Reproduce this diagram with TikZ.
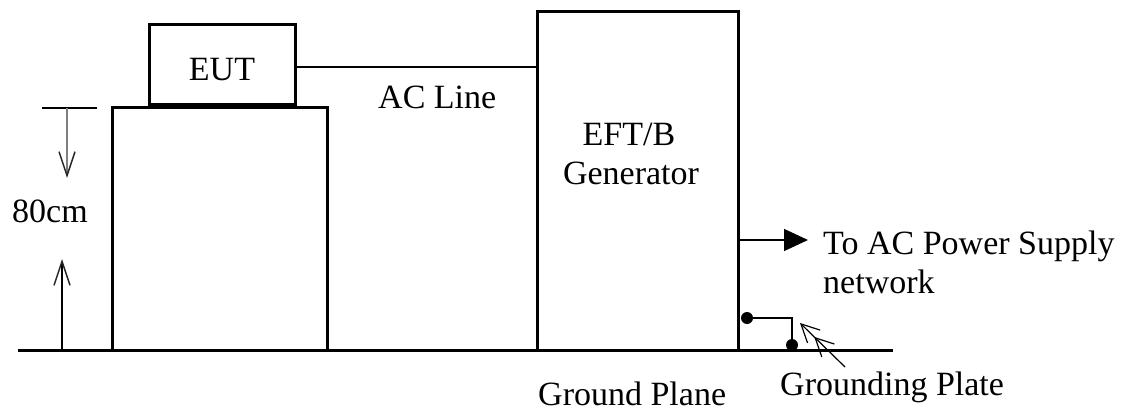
\documentclass[tikz,border=0pt]{standalone}
\usepackage{fontspec}
\setmainfont{Liberation Serif}
\usetikzlibrary{arrows.meta}
\begin{document}
\begin{tikzpicture}[x=1pt,y=-1pt,
  lbl/.style={font=\fontsize{34}{40}\selectfont, inner sep=0pt, anchor=base west},
  boxthick/.style={draw, line width=3pt, inner sep=0pt, outer sep=0pt},
  thinline/.style={line width=1.4pt},
  dimarrow/.style={line width=1.4pt, -{Straight Barb[length=24pt,width=16pt,line width=1.5pt,color=black!85]}},
  dotfill/.style={circle, fill, inner sep=0pt, minimum size=12pt}]
\useasboundingbox (0,0) rectangle (1132,412);
% boxes
\node[boxthick, minimum width=215pt, minimum height=243pt] (table) at (219.5,228.5) {};
\node[boxthick, minimum width=146pt, minimum height=79pt] (eut) at (222,64.5) {};
\node[lbl, anchor=base] (eutt) at (222,81) {EUT};
\node[boxthick, minimum width=201pt, minimum height=338pt] (gen) at (637.5,181) {};
\node[lbl, anchor=base] (g1) at (629,145) {EFT/B};
\node[lbl, anchor=base] (g2) at (631,184) {Generator};
% ground plane
\coordinate (gl) at (18,350);
\coordinate (gr) at (893,350);
\draw[line width=3pt] (gl) -- (gr);
% AC line
\coordinate (acend) at (537,67);
\draw[thinline] (eut.east |- acend) -- (acend);
\node[lbl] (acl) at (378,108) {AC Line};
% dimension 80cm
\coordinate (tl) at (42,108);
\coordinate (tr) at (97,108);
\draw[thinline] (tl) -- (tr);
\coordinate (d1s) at (67,108);
\coordinate (d1e) at (67,178);
\draw[dimarrow, draw=black!50] (d1s) -- (d1e);
\coordinate (d2s) at (62,350);
\coordinate (d2e) at (62,259);
\draw[dimarrow] (d2s) -- (d2e);
\node[lbl] (cm) at (12,222) {80cm};
% to AC power supply
\coordinate (pa) at (808,240);
\draw[thinline, -{Triangle[length=24pt,width=22pt]}] (gen.east |- pa) -- (pa);
\node[lbl] (ps1) at (823,254) {To AC Power Supply};
\node[lbl] (ps2) at (823,293) {network};
% grounding plate
\node[dotfill] (dA) at (747,318) {};
\node[dotfill] (dB) at (792,345) {};
\coordinate (corner) at (792,318);
\draw[thinline] (dA.center) -- (corner) -- (dB.center);
\coordinate (gpt) at (800,323);
\coordinate (gpe) at (845,367);
\draw[line width=1.2pt, -{Straight Barb[length=18pt,width=18pt,line width=1.2pt] Straight Barb[length=18pt,width=18pt,line width=1.2pt]}] (gpe) -- (gpt);
\node[lbl] (gpl) at (780,395) {Grounding Plate};
\node[lbl] (gnd) at (538,405) {Ground Plane};
\end{tikzpicture}
\end{document}
